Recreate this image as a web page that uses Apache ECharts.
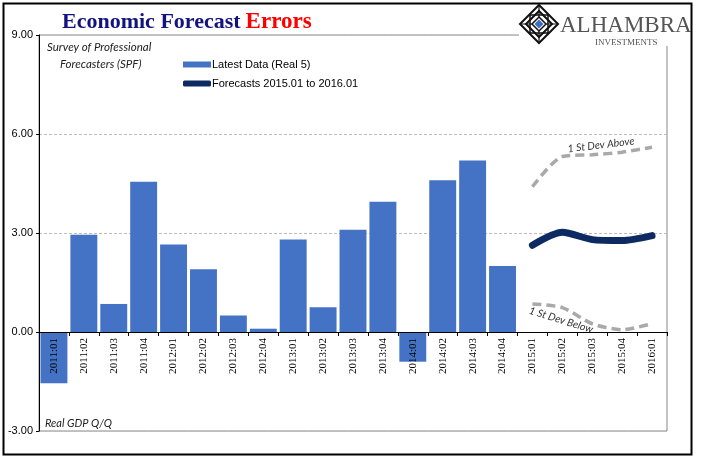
<!DOCTYPE html>
<html>
<head>
<meta charset="utf-8">
<script src="https://cdn.jsdelivr.net/npm/echarts@6/dist/echarts.min.js"></script>
<style>html,body{margin:0;padding:0;background:#fff;}#chart{width:705px;height:461px;}</style>
</head>
<body>
<div id="chart"></div>
<script>
const categories = ['2011:01','2011:02','2011:03','2011:04','2012:01','2012:02','2012:03','2012:04','2013:01','2013:02','2013:03','2013:04','2014:01','2014:02','2014:03','2014:04','2015:01','2015:02','2015:03','2015:04','2016:01'];
const latestData = [-1.55, 2.95, 0.85, 4.55, 2.65, 1.9, 0.5, 0.1, 2.8, 0.75, 3.1, 3.95, -0.9, 4.6, 5.2, 2.0];
const forecasts = [2.63, 3.02, 2.8, 2.77, 2.92];
const devAbove = [4.4, 5.32, 5.37, 5.45, 5.6];
const devBelow = [0.85, 0.74, 0.25, 0.07, 0.25];
const yTickLabels = ['-3.00','0.00','3.00','6.00','9.00'];

const pad = (arr, before) => Array(before).fill('-').concat(arr);
const fcStart = latestData.length;

const chart = echarts.init(document.getElementById('chart'), null, {renderer: 'canvas'});

const gridTop = 35, gridBottom = 30, H = 461;
const yMin = -3, yMax = 9;
const zeroOffset = -(H - gridTop - gridBottom) * (0 - yMin) / (yMax - yMin);

function diamond(cx, cy, r) {
  return [[cx, cy - r], [cx + r, cy], [cx, cy + r], [cx - r, cy]];
}
const lcx = 539, lcy = 24;
const logoEls = [
  {type: 'rect', shape: {x: 541, y: 5, width: 148, height: 41}, style: {fill: '#fff'}, z: 100},
  {type: 'rect', shape: {x: 519, y: 4, width: 24, height: 42}, style: {fill: '#fff'}, z: 100},
  {type: 'polygon', shape: {points: diamond(lcx, lcy, 19)}, style: {fill: 'none', stroke: '#111', lineWidth: 2}, z: 101},
  {type: 'polygon', shape: {points: diamond(lcx, lcy, 13)}, style: {fill: 'none', stroke: '#111', lineWidth: 2}, z: 101},
  {type: 'polygon', shape: {points: [[lcx - 9, lcy - 9], [lcx + 9, lcy - 9], [lcx + 9, lcy + 9], [lcx - 9, lcy + 9]]}, style: {fill: 'none', stroke: '#111', lineWidth: 1.5}, z: 101},
  {type: 'polygon', shape: {points: diamond(lcx, lcy, 7)}, style: {fill: '#fff', stroke: '#111', lineWidth: 1.5}, z: 102},
  {type: 'polygon', shape: {points: diamond(lcx, lcy, 4.5)}, style: {fill: '#3b6fc6'}, z: 103},
  {type: 'line', shape: {x1: lcx - 19, y1: lcy, x2: lcx + 19, y2: lcy}, style: {stroke: '#111', lineWidth: 1.2}, z: 101},
  {type: 'line', shape: {x1: lcx, y1: lcy - 19, x2: lcx, y2: lcy + 19}, style: {stroke: '#111', lineWidth: 1.2}, z: 101},
  {type: 'text', style: {text: 'ALHAMBRA', x: 560, y: 14, fill: '#555', font: '23px "Liberation Serif", serif'}, z: 101},
  {type: 'text', style: {text: 'INVESTMENTS', x: 595, y: 38, fill: '#555', font: '9px "Liberation Serif", serif'}, z: 101}
];

const option = {
  animation: false,
  backgroundColor: '#fff',
  title: {
    text: '{a|Economic Forecast} {b|Errors}',
    left: 57, top: 6,
    textStyle: {
      rich: {
        a: {fontFamily: '"Liberation Serif", serif', fontSize: 22, color: '#13137f'},
        b: {fontFamily: '"Liberation Serif", serif', fontSize: 23, color: '#ff0000', fontWeight: 'bold'}
      }
    }
  },
  legend: {
    orient: 'vertical', left: 178, top: 54, itemGap: 8, itemWidth: 28, itemHeight: 6,
    textStyle: {fontFamily: '"Liberation Sans", Arial, sans-serif', fontSize: 11, color: '#000', padding: [0, 0, 0, -4]},
    data: [
      {name: 'Latest Data (Real 5)', icon: 'rect'},
      {name: 'Forecasts 2015.01 to 2016.01', icon: 'roundRect'}
    ]
  },
  grid: {left: 39, right: 38, top: gridTop, bottom: gridBottom, show: true, borderColor: '#868686', borderWidth: 1,
    backgroundColor: 'transparent', outerBoundsMode: 'none', containLabel: false},
  xAxis: {
    type: 'category', data: categories, z: 5, position: 'bottom', offset: zeroOffset,
    axisLine: {onZero: false, lineStyle: {color: '#000', width: 1}},
    axisTick: {show: true, alignWithLabel: false, length: 4, lineStyle: {color: '#000'}},
    axisLabel: {interval: 0, rotate: 90, margin: 6, fontFamily: '"Liberation Serif", serif', fontSize: 11, color: '#000'},
    splitLine: {show: false}
  },
  yAxis: {
    type: 'value', min: yMin, max: yMax, interval: 3,
    axisLine: {show: true, lineStyle: {color: '#000', width: 1}},
    axisTick: {show: true, length: 3, lineStyle: {color: '#000'}},
    axisLabel: {margin: 6, fontFamily: '"Liberation Sans", Arial, sans-serif', fontSize: 11, color: '#000',
      formatter: v => yTickLabels[Math.round((v + 3) / 3)]},
    splitLine: {show: true, lineStyle: {color: '#bdbdbd', type: [3, 2], width: 1}}
  },
  series: [
    {
      name: 'Latest Data (Real 5)', type: 'bar', data: latestData.concat(Array(categories.length - fcStart).fill('-')),
      barCategoryGap: '10%', itemStyle: {color: '#4472c4'}, z: 2
    },
    {
      name: 'Forecasts 2015.01 to 2016.01', type: 'line', data: pad(forecasts, fcStart),
      smooth: 0.25, showSymbol: false, symbol: 'none', itemStyle: {color: '#0d2a62'},
      lineStyle: {color: '#0d2a62', width: 7, cap: 'round', join: 'round'}, z: 4
    },
    {
      name: 'Dev Above', type: 'line', data: pad(devAbove, fcStart), smooth: 0.25, showSymbol: false, symbol: 'none',
      lineStyle: {color: '#a9a9a9', width: 3.5, type: [9, 5]}, z: 3
    },
    {
      name: 'Dev Below', type: 'line', data: pad(devBelow, fcStart), smooth: 0.25, showSymbol: false, symbol: 'none',
      lineStyle: {color: '#a9a9a9', width: 3.5, type: [9, 5]}, z: 3
    }
  ],
  graphic: [
    {type: 'rect', shape: {x: 3.5, y: 3.5, width: 688, height: 451}, style: {fill: 'none', stroke: '#000', lineWidth: 2}, z: 110},
    {type: 'text', style: {text: 'Survey of Professional', x: 47, y: 41, fill: '#222', font: 'italic 11.5px Lato, sans-serif'}, z: 50},
    {type: 'text', style: {text: 'Forecasters (SPF)', x: 60, y: 58, fill: '#222', font: 'italic 11.5px Lato, sans-serif'}, z: 50},
    {type: 'text', style: {text: 'Real GDP Q/Q', x: 45, y: 418, fill: '#222', font: 'italic 11px Lato, sans-serif'}, z: 50},
    {type: 'text', x: 601, y: 145, rotation: 0.12, style: {text: '1 St Dev Above', fill: '#333', font: 'italic 10.5px Lato, sans-serif', align: 'center', verticalAlign: 'middle'}, z: 50},
    {type: 'text', x: 561, y: 320, rotation: -0.3, style: {text: '1 St Dev Below', fill: '#333', font: 'italic 10.5px Lato, sans-serif', align: 'center', verticalAlign: 'middle'}, z: 50}
  ].concat(logoEls)
};
chart.setOption(option);
</script>
</body>
</html>
